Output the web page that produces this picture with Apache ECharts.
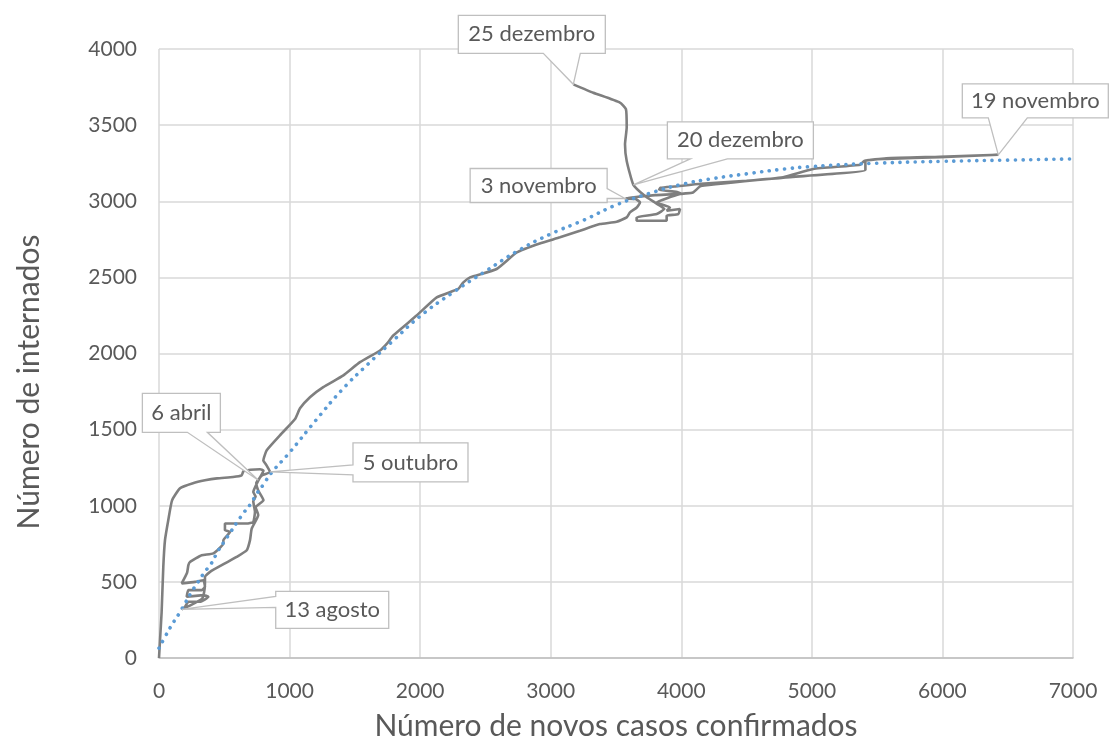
<!DOCTYPE html>
<html>
<head>
<meta charset="utf-8">
<script src="https://cdn.jsdelivr.net/npm/echarts@6/dist/echarts.min.js"></script>
<style>
html,body{margin:0;padding:0;background:#fff;}
#chart{width:1110px;height:738px;}
</style>
</head>
<body>
<div id="chart"></div>
<script>
// Trajectory: new confirmed cases (x) vs hospitalised (y), in time order
const pathCases = [
  0, 8, 20, 33, 46, 71, 100, 161, 260, 352, 444, 567, 633, 646, 700, 774, 800,
  761, 735, 722, 740, 722, 735, 722, 672, 505, 505, 544, 493, 493, 416, 327, 237, 225, 215, 174,
  276, 340, 352, 327, 225, 212, 340, 378, 314, 225, 199, 174,
  240, 330, 345, 352, 352, 391, 505, 595, 672, 697, 710, 760, 740, 800, 760, 745, 790, 850,
  820, 799, 825, 940, 1042, 1080, 1156, 1258, 1412, 1539, 1693, 1744, 1794, 1973, 2127, 2292,
  2331, 2382, 2586, 2740, 2916, 3071, 3224, 3377, 3505, 3582, 3607, 3659, 3684, 3650, 3570,
  3800, 4000, 3960, 3830, 3840, 3950, 4150, 4500, 4780, 5010, 5370, 5400, 5570, 5980, 6428,
  5980, 5570, 5410, 5410, 4780, 4150, 4090, 3990, 3812, 3913, 3888, 3990, 3977, 3888, 3888,
  3760, 3658, 3658, 3812, 3870, 3800, 3720, 3633,
  3582, 3569, 3582, 3576, 3530, 3326, 3173
];
const pathInternados = [
  0, 120, 300, 600, 775, 905, 1035, 1115, 1148, 1167, 1180, 1189, 1200, 1226, 1237, 1240, 1232,
  1167, 1120, 1090, 1060, 1030, 960, 894, 883, 883, 840, 828, 774, 752, 687, 675, 631, 610, 560, 490,
  500, 511, 468, 446, 446, 402, 413, 402, 369, 369, 336, 319,
  345, 390, 430, 490, 533, 566, 621, 664, 708, 774, 850, 940, 990, 1036, 1100, 1150, 1200, 1222,
  1270, 1298, 1364, 1475, 1570, 1640, 1713, 1779, 1856, 1943, 2020, 2063, 2118, 2249, 2369, 2424,
  2467, 2500, 2555, 2664, 2723, 2763, 2806, 2850, 2865, 2894, 2927, 2959, 2992, 3014, 3018,
  3040, 3050, 3062, 3075, 3088, 3097, 3115, 3135, 3158, 3212, 3240, 3265, 3282, 3292, 3305,
  3290, 3278, 3268, 3205, 3155, 3100, 3058, 3047, 2992, 2959, 2938, 2949, 2916, 2905, 2872,
  2872, 2872, 2894, 2916, 2950, 2990, 3036, 3108,
  3265, 3375, 3484, 3605, 3648, 3713, 3768
];

// Trend line
const trendCases = [0, 50, 100, 155, 200, 250, 300, 350, 400, 450, 500, 550, 600, 650, 700, 750, 800, 860, 1000, 1200, 1400, 1600, 1800, 2000, 2250, 2500, 2750, 3000, 3250, 3500, 3750, 4000, 4250, 4500, 4750, 5000, 5500, 6000, 6500, 7000];
const trendInternados = [65, 145, 220, 293, 360, 435, 500, 565, 620, 700, 765, 830, 895, 955, 1010, 1080, 1140, 1215, 1350, 1560, 1760, 1930, 2090, 2245, 2400, 2540, 2675, 2785, 2875, 2975, 3050, 3110, 3150, 3180, 3208, 3228, 3250, 3262, 3270, 3278];

// Callout labels
const labelNames = ['25 dezembro', '19 novembro', '20 dezembro', '3 novembro', '6 abril', '5 outubro', '13 agosto'];
const labelCases = [3173, 6428, 3633, 3570, 761, 850, 174];
const labelInternados = [3768, 3305, 3108, 3018, 1167, 1222, 319];

// Axis ticks
const xTicks = [0, 1000, 2000, 3000, 4000, 5000, 6000, 7000];
const yTicks = [0, 500, 1000, 1500, 2000, 2500, 3000, 3500, 4000];

// Callout box layout (pixels relative to anchor)
const calloutLayout = [
  {dx: -115, dy: -69, w: 147, h: 38, side: 'bottom', b1: 85, b2: 122},
  {dx: -36, dy: -71, w: 146, h: 34, side: 'bottom', b1: 26, b2: 65},
  {dx: 34, dy: -63, w: 146, h: 37, side: 'bottom', b1: 23, b2: 60},
  {dx: -155, dy: -30, w: 137, h: 34, side: 'right', b1: 20, b2: 30},
  {dx: -116, dy: -87, w: 78, h: 39, side: 'bottom', b1: 45, b2: 65},
  {dx: 83, dy: -29, w: 115, h: 39, side: 'left', b1: 22, b2: 32},
  {dx: 94, dy: -18, w: 113, h: 37, side: 'left', b1: 5, b2: 16}
];

const FONT = 'Lato, "Open Sans", sans-serif';
const TXT = '#595959';

const chart = echarts.init(document.getElementById('chart'), null, {renderer: 'canvas'});

const pathData = pathCases.map((x, i) => [x, pathInternados[i]]);
const trendData = trendCases.map((x, i) => [x, trendInternados[i]]);

chart.setOption({
  animation: false,
  backgroundColor: '#fff',
  grid: {left: 159, right: 37, top: 49, bottom: 80, containLabel: false, outerBoundsMode: 'none'},
  xAxis: {
    type: 'value', min: xTicks[0], max: xTicks[xTicks.length - 1], interval: xTicks[1] - xTicks[0],
    name: 'Número de novos casos confirmados', nameLocation: 'middle', nameGap: 53,
    nameTextStyle: {color: TXT, fontSize: 30, fontFamily: FONT},
    axisLine: {show: true, lineStyle: {color: '#bfbfbf', width: 1.5}},
    axisTick: {show: false},
    axisLabel: {color: TXT, fontSize: 21, fontFamily: FONT, margin: 23, formatter: v => String(v)},
    splitLine: {show: true, lineStyle: {color: '#d9d9d9', width: 1.5}}
  },
  yAxis: {
    type: 'value', min: yTicks[0], max: yTicks[yTicks.length - 1], interval: yTicks[1] - yTicks[0],
    axisLine: {show: false},
    axisTick: {show: false},
    axisLabel: {color: TXT, fontSize: 21, fontFamily: FONT, margin: 22, formatter: v => String(v)},
    splitLine: {show: true, lineStyle: {color: '#d9d9d9', width: 1.5}}
  },
  series: [
    {
      type: 'line', data: pathData, showSymbol: false, smooth: 0.15, z: 3,
      lineStyle: {color: '#7f7f7f', width: 2.6}
    },
    {
      type: 'line', data: trendData, showSymbol: false, smooth: true, z: 4,
      lineStyle: {color: '#5b9bd5', width: 3.6, type: [0.1, 7.6], cap: 'round'}
    }
  ]
});

const graphics = [{
  type: 'text', z: 50, x: 29, y: 382, rotation: Math.PI / 2,
  style: {text: 'Número de internados', fill: TXT, font: '30px ' + FONT, align: 'center', verticalAlign: 'middle'}
}];
labelNames.forEach((name, i) => {
  const p = chart.convertToPixel({gridIndex: 0}, [labelCases[i], labelInternados[i]]);
  const L = calloutLayout[i];
  const x0 = p[0] + L.dx, y0 = p[1] + L.dy, x1 = x0 + L.w, y1 = y0 + L.h;
  let pts;
  if (L.side === 'bottom') {
    pts = [[x0, y0], [x1, y0], [x1, y1], [x0 + L.b2, y1], [p[0], p[1]], [x0 + L.b1, y1], [x0, y1]];
  } else if (L.side === 'right') {
    pts = [[x0, y0], [x1, y0], [x1, y0 + L.b1], [p[0], p[1]], [x1, y0 + L.b2], [x1, y1], [x0, y1]];
  } else {
    pts = [[x0, y0], [x1, y0], [x1, y1], [x0, y1], [x0, y0 + L.b2], [p[0], p[1]], [x0, y0 + L.b1]];
  }
  graphics.push({
    type: 'polygon', z: 100,
    shape: {points: pts},
    style: {fill: '#ffffff', stroke: '#bfbfbf', lineWidth: 1.3}
  });
  graphics.push({
    type: 'text', z: 101,
    x: (x0 + x1) / 2, y: (y0 + y1) / 2,
    style: {text: name, fill: TXT, font: '22px ' + FONT, align: 'center', verticalAlign: 'middle'}
  });
});
chart.setOption({graphic: graphics});
</script>
</body>
</html>
